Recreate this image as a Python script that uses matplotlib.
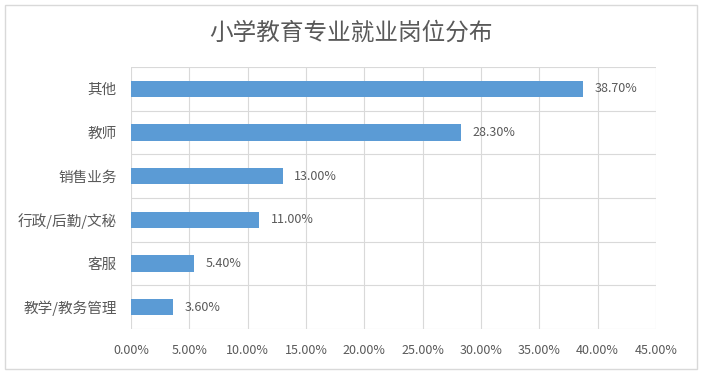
import matplotlib.pyplot as plt
from matplotlib.patches import Rectangle

plt.rcParams['font.family'] = ['Noto Sans CJK SC', 'DejaVu Sans']

# categories from top to bottom, share in percent
categories = ["其他", "教师", "销售业务", "行政/后勤/文秘", "客服", "教学/教务管理"]
values = [38.70, 28.30, 13.00, 11.00, 5.40, 3.60]
xticks = [0, 5, 10, 15, 20, 25, 30, 35, 40, 45]

text_color = "#595959"
grid_color = "#d9d9d9"

fig = plt.figure(figsize=(7.02, 3.73), dpi=100)
ax = fig.add_axes([131 / 702, 1 - 329 / 373, (656 - 131) / 702, (329 - 67) / 373])

# outer chart border
fig.patches.append(Rectangle((5 / 702, 4 / 373), 692 / 702, 364 / 373,
                             transform=fig.transFigure, fill=False,
                             edgecolor="#d9d9d9", linewidth=1))

ypos = list(range(len(categories)))[::-1]
ax.barh(ypos, values, height=0.37, color="#5b9bd5", zorder=3)

for y, v in zip(ypos, values):
    ax.text(v + 1.0, y, "%.2f%%" % v, va="center", ha="left",
            fontsize=9, color=text_color)

ax.set_xlim(0, 45)
ax.set_ylim(-0.5, len(categories) - 0.5)
ax.set_xticks(xticks)
ax.set_xticklabels(["%.2f%%" % t for t in xticks], fontsize=9, color=text_color)
ax.set_yticks(ypos)
ax.set_yticklabels(categories, fontsize=10.5, color=text_color)

# gridlines: vertical at ticks, horizontal at category boundaries
for t in xticks:
    ax.axvline(t, color=grid_color, linewidth=0.8, zorder=1)
for b in range(len(categories) + 1):
    ax.axhline(b - 0.5, color=grid_color, linewidth=0.8, zorder=1)

for s in ax.spines.values():
    s.set_visible(False)
ax.tick_params(length=0, pad=11)
ax.tick_params(axis="y", pad=10)

fig.text(0.5, 1 - 33 / 373, "小学教育专业就业岗位分布", ha="center", va="center",
         fontsize=17, color=text_color)

fig.savefig("out.png", dpi=100)
